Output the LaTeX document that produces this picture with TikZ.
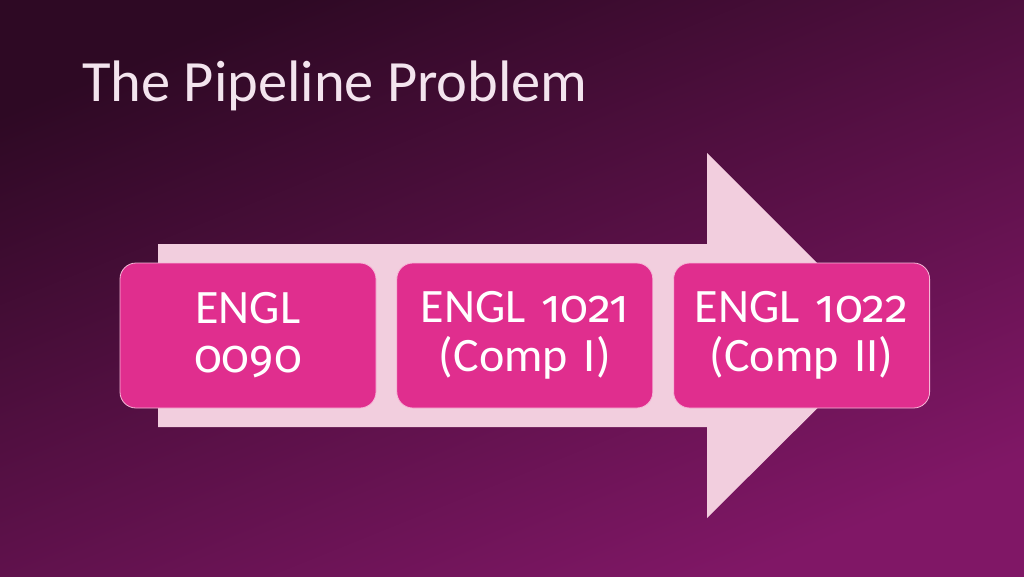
\documentclass[tikz,border=0pt]{standalone}
\usepackage{fontspec}
\setmainfont{Carlito}
\newfontfamily\oldnums[Numbers=OldStyle]{Fira Sans}
\usetikzlibrary{positioning}
\definecolor{bgtop}{HTML}{2E0924}
\definecolor{bgbot}{HTML}{801766}
\definecolor{pipe}{HTML}{F2CEDE}
\definecolor{course}{HTML}{E02E8E}
\definecolor{courseline}{HTML}{F7B8D8}
\definecolor{titletext}{HTML}{F3E4EE}
\newcommand{\num}[1]{{\oldnums\fontsize{46}{49}\selectfont #1}}

\begin{document}
\begin{tikzpicture}[x=1pt,y=-1pt]
\tikzstyle{course box} = [draw=courseline, line width=0.8pt, fill=course, rounded corners=16pt,
    minimum width=256pt, minimum height=145pt, text width=245pt, align=center,
    text=white, font=\fontsize{48}{49}\selectfont, inner sep=0pt]
% background and frame
\shade[top color=bgtop, bottom color=bgbot, shading angle=22] (0,0) rectangle (1024,576);
\useasboundingbox (0,0) rectangle (1024,576);
\node[anchor=base west, text=titletext, font=\fontsize{58.5}{60}\selectfont, inner sep=0pt] (title) at (82,101) {The Pipeline Problem};
% the pipeline arrow
\fill[pipe] (158,244) -- (707,244) -- (707,153) -- (890,336) -- (707,518) -- (707,427) -- (158,427) -- cycle;
\node[course box] (engl0090) at (248,335.5) {ENGL\\\num{0090}};
\node[course box, right=20pt of engl0090] (engl1021) {ENGL \num{1021}\\(Comp I)};
\node[course box, right=20pt of engl1021] (engl1022) {ENGL \num{1022}\\(Comp II)};
\end{tikzpicture}
\end{document}
